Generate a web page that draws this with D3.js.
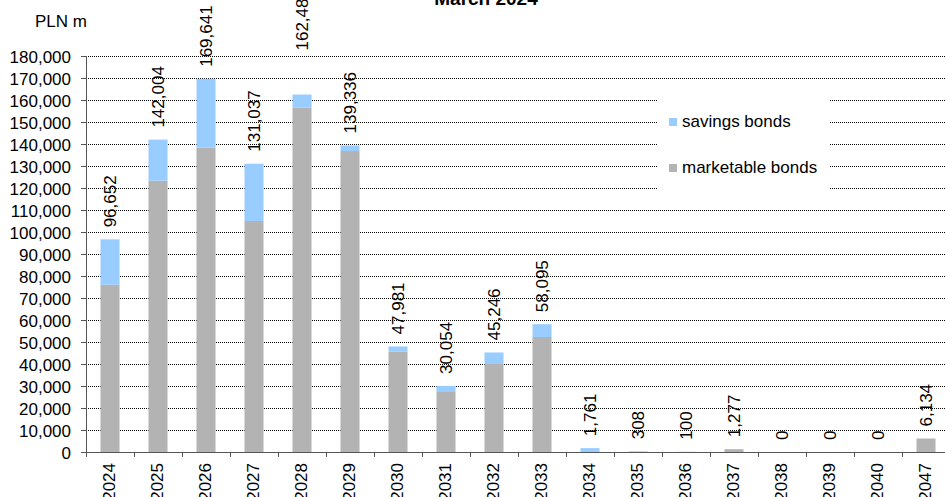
<!DOCTYPE html>
<html>
<head>
<meta charset="utf-8">
<script src="https://cdn.jsdelivr.net/npm/d3@7"></script>
<style>
  body { margin: 0; background: #fff; }
  svg { display: block; font-family: "Liberation Sans", Arial, sans-serif; }
</style>
</head>
<body>
<svg id="chart" width="945" height="497"></svg>
<script>
// ---- data ----
const years = ["2024","2025","2026","2027","2028","2029","2030","2031","2032","2033","2034","2035","2036","2037","2038","2039","2040","2047"];
const marketable = [76000, 123300, 138300, 105000, 156500, 136800, 45600, 27270, 40000, 52270, 0, 0, 0, 1277, 0, 0, 0, 6134];
const savings    = [20652, 18704, 31341, 26037, 5985, 2536, 2381, 2784, 5246, 5825, 1761, 308, 100, 0, 0, 0, 0, 0];
const totals     = [96652, 142004, 169641, 131037, 162485, 139336, 47981, 30054, 45246, 58095, 1761, 308, 100, 1277, 0, 0, 0, 6134];
const yTicks = d3.range(0, 180001, 10000);
const seriesNames = ["savings bonds", "marketable bonds"];
const title = "March 2024";
const unitLabel = "PLN m";

// ---- layout / style ----
const colors = { marketable: "#B3B3B3", savings: "#99CCFF" };
const plotL = 86, plotR = 950, plotT = 56, plotB = 452;
const labelGap = 12;
const labelExtraLift = { "2028": 32 };
const fs = 17;

const svg = d3.select("#chart");
const rows = years.map((yr, i) => ({ year: yr, marketable: marketable[i], savings: savings[i], total: totals[i] }));

const x = d3.scaleBand().domain(years).range([plotL, plotR]).paddingInner(0.604).paddingOuter(0.302);
const xb = d3.scaleBand().domain(years).range([plotL, plotR]).padding(0);
const y = d3.scaleLinear().domain([0, 180000]).range([plotB, plotT]);

// gridlines
svg.append("g").selectAll("line").data(yTicks.filter(d => d > 0)).join("line")
  .attr("x1", plotL).attr("x2", 945)
  .attr("y1", d => Math.round(y(d)) + 0.5).attr("y2", d => Math.round(y(d)) + 0.5)
  .attr("stroke", "#000").attr("stroke-width", 1).attr("stroke-dasharray", "1,1");

// stacked bars
const stack = d3.stack().keys(["marketable", "savings"]);
const layers = stack(rows);
svg.append("g").selectAll("g").data(layers).join("g")
  .attr("fill", d => colors[d.key])
  .selectAll("rect").data(d => d).join("rect")
  .attr("x", d => x(d.data.year))
  .attr("width", x.bandwidth())
  .attr("y", d => y(d[1]))
  .attr("height", d => Math.max(0, y(d[0]) - y(d[1])));

// y axis
const yAxis = svg.append("g");
yAxis.append("line").attr("x1", plotL + 0.5).attr("x2", plotL + 0.5).attr("y1", plotT).attr("y2", plotB + 1)
  .attr("stroke", "#555");
yAxis.selectAll("line.t").data(yTicks).join("line").attr("class", "t")
  .attr("x1", plotL - 5).attr("x2", plotL)
  .attr("y1", d => Math.round(y(d)) + 0.5).attr("y2", d => Math.round(y(d)) + 0.5)
  .attr("stroke", "#555");
yAxis.selectAll("text").data(yTicks).join("text")
  .attr("x", 71).attr("y", d => y(d) + 6.5)
  .attr("text-anchor", "end").attr("font-size", fs).attr("fill", "#000")
  .text(d3.format(","));

// x axis
const xAxis = svg.append("g");
xAxis.append("line").attr("x1", plotL).attr("x2", 945).attr("y1", plotB + 0.5).attr("y2", plotB + 0.5)
  .attr("stroke", "#555");
xAxis.selectAll("line.t").data(years).join("line").attr("class", "t")
  .attr("x1", d => Math.round(xb(d)) + 0.5).attr("x2", d => Math.round(xb(d)) + 0.5)
  .attr("y1", plotB).attr("y2", plotB + 5)
  .attr("stroke", "#555");
xAxis.selectAll("text").data(years).join("text")
  .attr("transform", d => `translate(${xb(d) + xb.bandwidth() / 2 - 1},463) rotate(-90)`)
  .attr("text-anchor", "end").attr("dy", "0.35em").attr("font-size", fs)
  .text(d => d);

// value labels
svg.append("g").selectAll("text").data(rows).join("text")
  .attr("transform", d => `translate(${x(d.year) + x.bandwidth() / 2},${y(d.total) - labelGap - (labelExtraLift[d.year] || 0)}) rotate(-90)`)
  .attr("text-anchor", "start").attr("dy", "0.35em").attr("font-size", fs)
  .text(d => d3.format(",")(d.total));

// legend
const lg = svg.append("g");
lg.append("rect").attr("x", 658).attr("y", 99).attr("width", 171).attr("height", 101).attr("fill", "#fff");
const legendItems = [
  { name: seriesNames[0], color: colors.savings, ly: 127 },
  { name: seriesNames[1], color: colors.marketable, ly: 173 }
];
legendItems.forEach(it => {
  lg.append("rect").attr("x", 669).attr("y", it.ly - 9).attr("width", 8).attr("height", 8).attr("fill", it.color);
  lg.append("text").attr("x", 682).attr("y", it.ly).attr("font-size", fs).text(it.name);
});

// title and unit
svg.append("text").attr("x", 486).attr("y", 5).attr("text-anchor", "middle")
  .attr("font-size", 19).attr("font-weight", "bold").text(title);
svg.append("text").attr("x", 35).attr("y", 27).attr("font-size", fs).text(unitLabel);
</script>
</body>
</html>
